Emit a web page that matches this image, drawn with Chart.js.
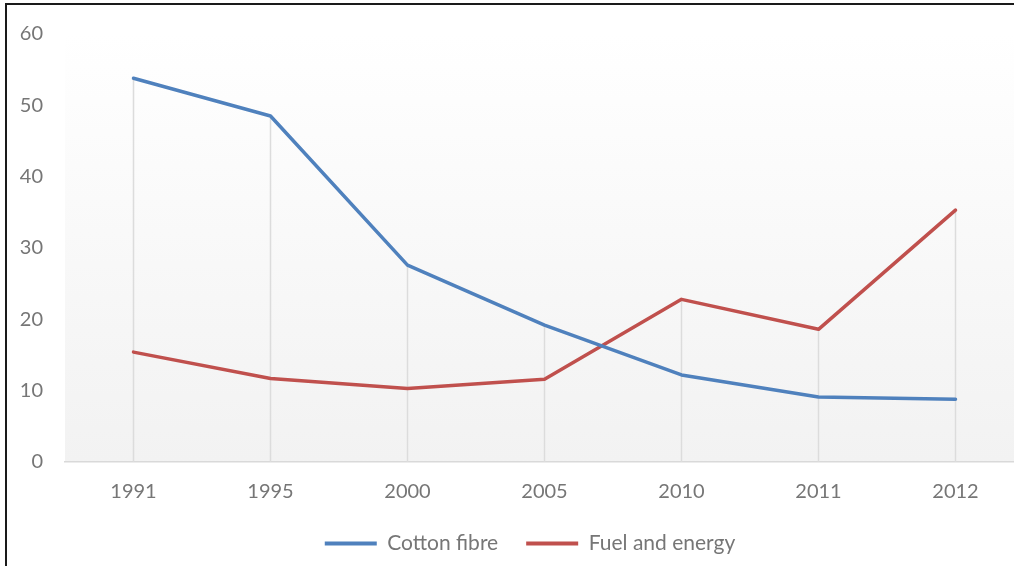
<!DOCTYPE html>
<html>
<head>
<meta charset="utf-8">
<script src="https://cdn.jsdelivr.net/npm/chart.js@4"></script>
<style>
  html, body { margin: 0; padding: 0; background: #ffffff; overflow: hidden; }
  #wrap { position: absolute; left: 0; top: 0; width: 1040px; height: 566px; }
  #frame { position: absolute; left: 5px; top: 3px; width: 1100px; height: 700px;
           border-left: 2px solid #1a1a1a; border-top: 2px solid #1a1a1a; pointer-events: none; }
</style>
</head>
<body>
<div id="wrap"><canvas id="c" width="1040" height="566"></canvas></div>
<div id="frame"></div>
<script>
const categories = ["1991", "1995", "2000", "2005", "2010", "2011", "2012"];
const cottonFibre = [53.8, 48.5, 27.6, 19.2, 12.2, 9.1, 8.8];
const fuelEnergy = [15.4, 11.7, 10.3, 11.6, 22.8, 18.6, 35.3];
const yTicks = [0, 10, 20, 30, 40, 50, 60];

const FONT = "Lato";
const TXT = "#767676";

const bgPlugin = {
  id: "bg",
  beforeDraw(chart) {
    const { ctx, chartArea: a } = chart;
    const g = ctx.createLinearGradient(0, a.top, 0, a.bottom);
    g.addColorStop(0, "#ffffff");
    g.addColorStop(1, "#f2f2f2");
    ctx.save();
    ctx.fillStyle = g;
    ctx.fillRect(a.left, a.top, a.right - a.left, a.bottom - a.top);
    ctx.restore();
  }
};

const dropPlugin = {
  id: "drops",
  beforeDatasetsDraw(chart) {
    const { ctx } = chart;
    const xs = chart.scales.x, ys = chart.scales.y;
    ctx.save();
    ctx.strokeStyle = "#dcdcdc";
    ctx.lineWidth = 1.5;
    categories.forEach((c, i) => {
      const x = xs.getPixelForValue(i);
      const top = ys.getPixelForValue(Math.max(cottonFibre[i], fuelEnergy[i]));
      const bot = ys.getPixelForValue(0);
      ctx.beginPath();
      ctx.moveTo(x, top);
      ctx.lineTo(x, bot);
      ctx.stroke();
    });
    ctx.restore();
  }
};

// centre the legend under the visible part of the plot
const legendShift = {
  id: "legendShift",
  afterLayout(chart) {
    if (chart.legend) {
      chart.legend.left += 18;
      chart.legend.right += 18;
    }
  }
};

new Chart(document.getElementById("c"), {
  type: "line",
  data: {
    labels: categories,
    datasets: [
      { label: "Cotton fibre", data: cottonFibre, borderColor: "#4f81bd", backgroundColor: "#4f81bd",
        borderWidth: 3.5, pointRadius: 0, tension: 0, borderCapStyle: "round", borderJoinStyle: "round" },
      { label: "Fuel and energy", data: fuelEnergy, borderColor: "#c0504d", backgroundColor: "#c0504d",
        borderWidth: 3.5, pointRadius: 0, tension: 0, borderCapStyle: "round", borderJoinStyle: "round" }
    ]
  },
  options: {
    responsive: false,
    animation: false,
    layout: { padding: { left: 0, right: 16, top: 33, bottom: 2 } },
    plugins: {
      tooltip: { enabled: false },
      legend: {
        position: "bottom",
        labels: {
          font: { family: FONT, size: 21 },
          color: TXT,
          boxWidth: 52,
          boxHeight: 4,
          padding: 28,
          generateLabels(chart) {
            return Chart.defaults.plugins.legend.labels.generateLabels(chart).map(l => ({ ...l, lineWidth: 0 }));
          }
        }
      }
    },
    scales: {
      x: {
        offset: true,
        grid: { display: false, drawTicks: false, offset: true },
        border: { display: true, color: "#d9d9d9", width: 1.5 },
        ticks: { font: { family: FONT, size: 20 }, color: TXT, padding: 18, maxRotation: 0 },
        afterFit(s) { s.height = 43; }
      },
      y: {
        min: 0, max: 60,
        afterBuildTicks(s) { s.ticks = yTicks.map(v => ({ value: v })); },
        grid: { display: false, drawTicks: false },
        border: { display: false },
        ticks: { font: { family: FONT, size: 20 }, color: TXT, padding: 22 },
        afterFit(s) { s.width = 65; }
      }
    }
  },
  plugins: [bgPlugin, dropPlugin, legendShift]
});
</script>
</body>
</html>
